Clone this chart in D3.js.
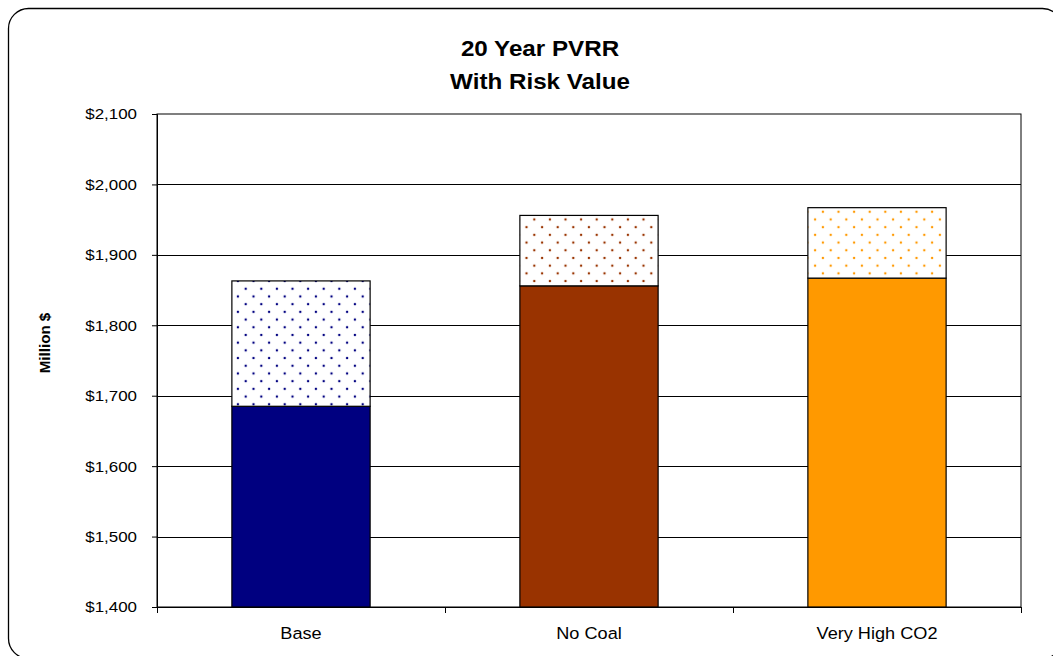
<!DOCTYPE html>
<html>
<head>
<meta charset="utf-8">
<script src="https://cdn.jsdelivr.net/npm/d3@7/dist/d3.min.js"></script>
<style>
  html, body { margin: 0; padding: 0; background: #fff; }
  svg { display: block; font-family: "Liberation Sans", Arial, sans-serif; }
</style>
</head>
<body>
<svg id="chart" width="1053" height="656"></svg>
<script>
// Scenarios and their 20-year PVRR (million $)
const categories = ["Base", "No Coal", "Very High CO2"];
const pvrrValues = [1685, 1856, 1867];
const riskValues = [178, 100, 100];   // risk value stacked on top of PVRR
const colors = ["#000080", "#993300", "#FF9900"];
const yTicks = [1400, 1500, 1600, 1700, 1800, 1900, 2000, 2100];

const svg = d3.select("#chart");
const plot = { left: 157, right: 1021, top: 114, bottom: 607 };
const stretch = 1.1; // slightly wide lettering

// Rounded outer frame
svg.append("rect")
  .attr("x", 8.5).attr("y", 8.5)
  .attr("width", 1054).attr("height", 650)
  .attr("rx", 20).attr("ry", 20)
  .attr("fill", "#fff").attr("stroke", "#000").attr("stroke-width", 1.3);

// Dot patterns for the risk segments
const defs = svg.append("defs");
colors.forEach((c, i) => {
  const p = defs.append("pattern")
    .attr("id", "dots" + i)
    .attr("patternUnits", "userSpaceOnUse")
    .attr("width", 15.6).attr("height", 15.4);
  p.append("rect").attr("width", 15.6).attr("height", 15.4).attr("fill", "#fff");
  p.append("circle").attr("cx", 3.9).attr("cy", 3.8).attr("r", 1.2).attr("fill", c);
  p.append("circle").attr("cx", 11.7).attr("cy", 11.5).attr("r", 1.2).attr("fill", c);
});

const x = d3.scaleBand().domain(categories)
  .range([plot.left, plot.right]).paddingInner(0.52).paddingOuter(0.26);
const y = d3.scaleLinear().domain([1400, 2100]).range([plot.bottom, plot.top]);

// Plot area background and gridlines
svg.append("rect")
  .attr("x", plot.left).attr("y", plot.top)
  .attr("width", plot.right - plot.left).attr("height", plot.bottom - plot.top)
  .attr("fill", "#fff").attr("stroke", "#000").attr("stroke-width", 1);

svg.append("g").selectAll("line")
  .data(yTicks.slice(1, -1))
  .join("line")
  .attr("x1", plot.left).attr("x2", plot.right)
  .attr("y1", d => Math.round(y(d)) + 0.5).attr("y2", d => Math.round(y(d)) + 0.5)
  .attr("stroke", "#000").attr("stroke-width", 1);

// Y axis
const yAxis = d3.axisLeft(y).tickValues(yTicks)
  .tickSize(5).tickPadding(0)
  .tickFormat(d => "$" + d3.format(",")(d));
const gy = svg.append("g").attr("transform", `translate(${plot.left},0)`).call(yAxis);
gy.attr("font-family", null).attr("font-size", null);
gy.select(".domain").attr("stroke", "#000");
gy.selectAll(".tick line").attr("stroke", "#000");
gy.selectAll(".tick text")
  .attr("x", null)
  .attr("transform", `translate(-20,0) scale(${stretch},1)`)
  .attr("font-size", 15.4).attr("fill", "#000");

// X axis (ticks between categories)
const gx = svg.append("g").attr("transform", `translate(0,${plot.bottom})`);
gx.append("line").attr("x1", plot.left).attr("x2", plot.right)
  .attr("y1", 0.5).attr("y2", 0.5).attr("stroke", "#000");
const boundaries = d3.range(categories.length + 1)
  .map(i => plot.left + i * (plot.right - plot.left) / categories.length);
gx.selectAll("line.tk").data(boundaries).join("line").attr("class", "tk")
  .attr("x1", d => Math.round(d) + 0.5).attr("x2", d => Math.round(d) + 0.5)
  .attr("y1", 0).attr("y2", 6).attr("stroke", "#000");
gx.selectAll("text").data(categories).join("text")
  .attr("transform", d => `translate(${x(d) + x.bandwidth() / 2},32) scale(${stretch},1)`)
  .attr("text-anchor", "middle")
  .attr("font-size", 16.5).attr("fill", "#000")
  .text(d => d);

// Bars: solid PVRR segment and dotted risk segment on top
const bars = svg.append("g");
categories.forEach((c, i) => {
  const bx = x(c), bw = x.bandwidth();
  bars.append("rect")
    .attr("x", bx).attr("y", y(pvrrValues[i]))
    .attr("width", bw).attr("height", y(1400) - y(pvrrValues[i]))
    .attr("fill", colors[i]).attr("stroke", "#000").attr("stroke-width", 1.2);
  bars.append("rect")
    .attr("x", bx).attr("y", y(pvrrValues[i] + riskValues[i]))
    .attr("width", bw).attr("height", y(pvrrValues[i]) - y(pvrrValues[i] + riskValues[i]))
    .attr("fill", `url(#dots${i})`).attr("stroke", "#000").attr("stroke-width", 1.2);
});

// Titles
svg.append("text")
  .attr("transform", `translate(540,56) scale(${stretch},1)`).attr("text-anchor", "middle")
  .attr("font-size", 22).attr("font-weight", "bold").text("20 Year PVRR");
svg.append("text")
  .attr("transform", `translate(540,89) scale(${stretch},1)`).attr("text-anchor", "middle")
  .attr("font-size", 22).attr("font-weight", "bold").text("With Risk Value");

svg.append("text")
  .attr("transform", "translate(50,343) rotate(-90) scale(1.08,1)")
  .attr("text-anchor", "middle")
  .attr("font-size", 14).attr("font-weight", "bold").text("Million $");
</script>
</body>
</html>
